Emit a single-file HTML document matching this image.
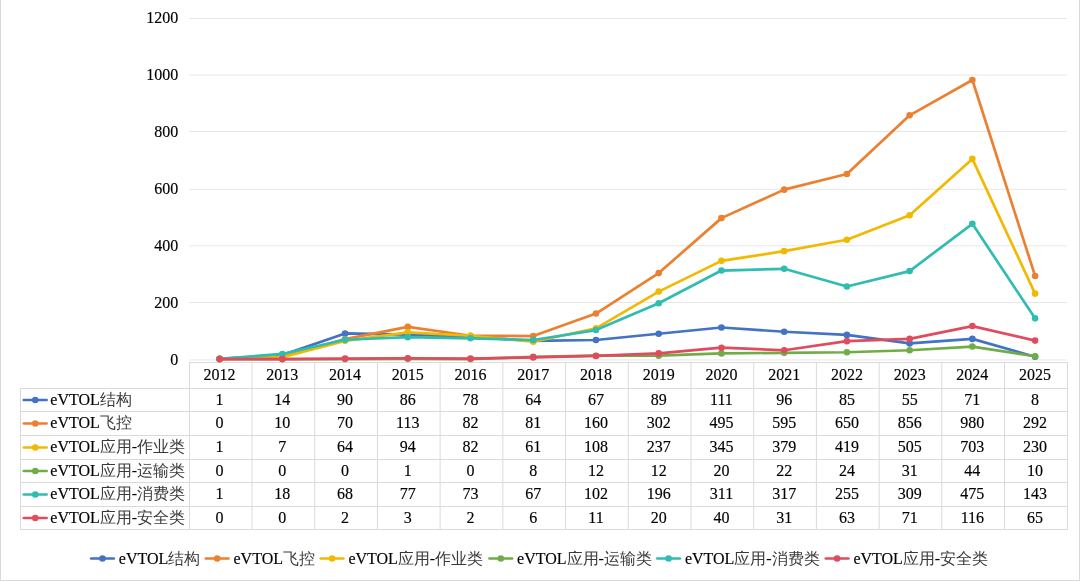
<!DOCTYPE html><html><head><meta charset="utf-8"><style>html,body{margin:0;padding:0;background:#fff;overflow:hidden;}svg{display:block;will-change:transform;}text{font-family:"Liberation Serif",serif;fill:#000;stroke:#000;stroke-width:0.15px;}tspan{stroke:none;}</style></head><body>
<svg width="1080" height="581" viewBox="0 0 1080 581">
<rect x="0" y="0" width="1080" height="581" fill="#fff"/>
<rect x="0" y="0" width="1" height="581" fill="#D9D9D9"/>
<rect x="1079" y="0" width="1" height="581" fill="#D9D9D9"/>
<rect x="0" y="580" width="1080" height="1" fill="#D9D9D9"/>
<line x1="189" y1="359.90" x2="1067" y2="359.90" stroke="#E6E6E6" stroke-width="1"/>
<text x="178.2" y="364.78" font-size="16" text-anchor="end">0</text>
<line x1="189" y1="302.50" x2="1067" y2="302.50" stroke="#E6E6E6" stroke-width="1"/>
<text x="178.2" y="307.85" font-size="16" text-anchor="end">200</text>
<line x1="189" y1="245.80" x2="1067" y2="245.80" stroke="#E6E6E6" stroke-width="1"/>
<text x="178.2" y="250.92" font-size="16" text-anchor="end">400</text>
<line x1="189" y1="189.30" x2="1067" y2="189.30" stroke="#E6E6E6" stroke-width="1"/>
<text x="178.2" y="193.99" font-size="16" text-anchor="end">600</text>
<line x1="189" y1="131.50" x2="1067" y2="131.50" stroke="#E6E6E6" stroke-width="1"/>
<text x="178.2" y="137.06" font-size="16" text-anchor="end">800</text>
<line x1="189" y1="75.00" x2="1067" y2="75.00" stroke="#E6E6E6" stroke-width="1"/>
<text x="178.2" y="80.13" font-size="16" text-anchor="end">1000</text>
<line x1="189" y1="18.50" x2="1067" y2="18.50" stroke="#E6E6E6" stroke-width="1"/>
<text x="178.2" y="23.20" font-size="16" text-anchor="end">1200</text>
<rect x="189" y="362" width="879" height="1" fill="#DADADA"/>
<rect x="20" y="388" width="1048" height="1" fill="#DADADA"/>
<rect x="20" y="411" width="1048" height="1" fill="#DADADA"/>
<rect x="20" y="435" width="1048" height="1" fill="#DADADA"/>
<rect x="20" y="459" width="1048" height="1" fill="#DADADA"/>
<rect x="20" y="482" width="1048" height="1" fill="#DADADA"/>
<rect x="20" y="506" width="1048" height="1" fill="#DADADA"/>
<rect x="20" y="529" width="1048" height="1" fill="#DADADA"/>
<rect x="20" y="388" width="1" height="142" fill="#DADADA"/>
<line x1="189.50" y1="362" x2="189.50" y2="530" stroke="#DADADA" stroke-width="1"/>
<line x1="252.01" y1="362" x2="252.01" y2="530" stroke="#DADADA" stroke-width="1"/>
<line x1="314.72" y1="362" x2="314.72" y2="530" stroke="#DADADA" stroke-width="1"/>
<line x1="377.43" y1="362" x2="377.43" y2="530" stroke="#DADADA" stroke-width="1"/>
<line x1="440.14" y1="362" x2="440.14" y2="530" stroke="#DADADA" stroke-width="1"/>
<line x1="502.85" y1="362" x2="502.85" y2="530" stroke="#DADADA" stroke-width="1"/>
<line x1="565.56" y1="362" x2="565.56" y2="530" stroke="#DADADA" stroke-width="1"/>
<line x1="628.27" y1="362" x2="628.27" y2="530" stroke="#DADADA" stroke-width="1"/>
<line x1="690.98" y1="362" x2="690.98" y2="530" stroke="#DADADA" stroke-width="1"/>
<line x1="753.69" y1="362" x2="753.69" y2="530" stroke="#DADADA" stroke-width="1"/>
<line x1="816.40" y1="362" x2="816.40" y2="530" stroke="#DADADA" stroke-width="1"/>
<line x1="879.11" y1="362" x2="879.11" y2="530" stroke="#DADADA" stroke-width="1"/>
<line x1="941.82" y1="362" x2="941.82" y2="530" stroke="#DADADA" stroke-width="1"/>
<line x1="1004.53" y1="362" x2="1004.53" y2="530" stroke="#DADADA" stroke-width="1"/>
<line x1="1067.50" y1="362" x2="1067.50" y2="530" stroke="#DADADA" stroke-width="1"/>
<text x="219.60" y="379.9" font-size="16" text-anchor="middle">2012</text>
<text x="282.33" y="379.9" font-size="16" text-anchor="middle">2013</text>
<text x="345.06" y="379.9" font-size="16" text-anchor="middle">2014</text>
<text x="407.79" y="379.9" font-size="16" text-anchor="middle">2015</text>
<text x="470.52" y="379.9" font-size="16" text-anchor="middle">2016</text>
<text x="533.25" y="379.9" font-size="16" text-anchor="middle">2017</text>
<text x="595.98" y="379.9" font-size="16" text-anchor="middle">2018</text>
<text x="658.71" y="379.9" font-size="16" text-anchor="middle">2019</text>
<text x="721.44" y="379.9" font-size="16" text-anchor="middle">2020</text>
<text x="784.17" y="379.9" font-size="16" text-anchor="middle">2021</text>
<text x="846.90" y="379.9" font-size="16" text-anchor="middle">2022</text>
<text x="909.63" y="379.9" font-size="16" text-anchor="middle">2023</text>
<text x="972.36" y="379.9" font-size="16" text-anchor="middle">2024</text>
<text x="1035.09" y="379.9" font-size="16" text-anchor="middle">2025</text>
<line x1="23.8" y1="400.00" x2="46.6" y2="400.00" stroke="#4472C4" stroke-width="2.7" stroke-linecap="round"/>
<circle cx="35.3" cy="400.00" r="3.3" fill="#4472C4"/>
<text x="50.3" y="404.60" font-size="16">eVTOL<tspan fill="#3A3A3A">结构</tspan></text>
<text x="219.60" y="404.60" font-size="16" text-anchor="middle">1</text>
<text x="282.33" y="404.60" font-size="16" text-anchor="middle">14</text>
<text x="345.06" y="404.60" font-size="16" text-anchor="middle">90</text>
<text x="407.79" y="404.60" font-size="16" text-anchor="middle">86</text>
<text x="470.52" y="404.60" font-size="16" text-anchor="middle">78</text>
<text x="533.25" y="404.60" font-size="16" text-anchor="middle">64</text>
<text x="595.98" y="404.60" font-size="16" text-anchor="middle">67</text>
<text x="658.71" y="404.60" font-size="16" text-anchor="middle">89</text>
<text x="721.44" y="404.60" font-size="16" text-anchor="middle">111</text>
<text x="784.17" y="404.60" font-size="16" text-anchor="middle">96</text>
<text x="846.90" y="404.60" font-size="16" text-anchor="middle">85</text>
<text x="909.63" y="404.60" font-size="16" text-anchor="middle">55</text>
<text x="972.36" y="404.60" font-size="16" text-anchor="middle">71</text>
<text x="1035.09" y="404.60" font-size="16" text-anchor="middle">8</text>
<line x1="23.8" y1="423.50" x2="46.6" y2="423.50" stroke="#EC8031" stroke-width="2.7" stroke-linecap="round"/>
<circle cx="35.3" cy="423.50" r="3.3" fill="#EC8031"/>
<text x="50.3" y="428.10" font-size="16">eVTOL<tspan fill="#3A3A3A">飞控</tspan></text>
<text x="219.60" y="428.10" font-size="16" text-anchor="middle">0</text>
<text x="282.33" y="428.10" font-size="16" text-anchor="middle">10</text>
<text x="345.06" y="428.10" font-size="16" text-anchor="middle">70</text>
<text x="407.79" y="428.10" font-size="16" text-anchor="middle">113</text>
<text x="470.52" y="428.10" font-size="16" text-anchor="middle">82</text>
<text x="533.25" y="428.10" font-size="16" text-anchor="middle">81</text>
<text x="595.98" y="428.10" font-size="16" text-anchor="middle">160</text>
<text x="658.71" y="428.10" font-size="16" text-anchor="middle">302</text>
<text x="721.44" y="428.10" font-size="16" text-anchor="middle">495</text>
<text x="784.17" y="428.10" font-size="16" text-anchor="middle">595</text>
<text x="846.90" y="428.10" font-size="16" text-anchor="middle">650</text>
<text x="909.63" y="428.10" font-size="16" text-anchor="middle">856</text>
<text x="972.36" y="428.10" font-size="16" text-anchor="middle">980</text>
<text x="1035.09" y="428.10" font-size="16" text-anchor="middle">292</text>
<line x1="23.8" y1="447.50" x2="46.6" y2="447.50" stroke="#F1B902" stroke-width="2.7" stroke-linecap="round"/>
<circle cx="35.3" cy="447.50" r="3.3" fill="#F1B902"/>
<text x="50.3" y="452.10" font-size="16">eVTOL<tspan fill="#3A3A3A">应用</tspan>-<tspan fill="#3A3A3A">作业类</tspan></text>
<text x="219.60" y="452.10" font-size="16" text-anchor="middle">1</text>
<text x="282.33" y="452.10" font-size="16" text-anchor="middle">7</text>
<text x="345.06" y="452.10" font-size="16" text-anchor="middle">64</text>
<text x="407.79" y="452.10" font-size="16" text-anchor="middle">94</text>
<text x="470.52" y="452.10" font-size="16" text-anchor="middle">82</text>
<text x="533.25" y="452.10" font-size="16" text-anchor="middle">61</text>
<text x="595.98" y="452.10" font-size="16" text-anchor="middle">108</text>
<text x="658.71" y="452.10" font-size="16" text-anchor="middle">237</text>
<text x="721.44" y="452.10" font-size="16" text-anchor="middle">345</text>
<text x="784.17" y="452.10" font-size="16" text-anchor="middle">379</text>
<text x="846.90" y="452.10" font-size="16" text-anchor="middle">419</text>
<text x="909.63" y="452.10" font-size="16" text-anchor="middle">505</text>
<text x="972.36" y="452.10" font-size="16" text-anchor="middle">703</text>
<text x="1035.09" y="452.10" font-size="16" text-anchor="middle">230</text>
<line x1="23.8" y1="471.00" x2="46.6" y2="471.00" stroke="#70AD47" stroke-width="2.7" stroke-linecap="round"/>
<circle cx="35.3" cy="471.00" r="3.3" fill="#70AD47"/>
<text x="50.3" y="475.60" font-size="16">eVTOL<tspan fill="#3A3A3A">应用</tspan>-<tspan fill="#3A3A3A">运输类</tspan></text>
<text x="219.60" y="475.60" font-size="16" text-anchor="middle">0</text>
<text x="282.33" y="475.60" font-size="16" text-anchor="middle">0</text>
<text x="345.06" y="475.60" font-size="16" text-anchor="middle">0</text>
<text x="407.79" y="475.60" font-size="16" text-anchor="middle">1</text>
<text x="470.52" y="475.60" font-size="16" text-anchor="middle">0</text>
<text x="533.25" y="475.60" font-size="16" text-anchor="middle">8</text>
<text x="595.98" y="475.60" font-size="16" text-anchor="middle">12</text>
<text x="658.71" y="475.60" font-size="16" text-anchor="middle">12</text>
<text x="721.44" y="475.60" font-size="16" text-anchor="middle">20</text>
<text x="784.17" y="475.60" font-size="16" text-anchor="middle">22</text>
<text x="846.90" y="475.60" font-size="16" text-anchor="middle">24</text>
<text x="909.63" y="475.60" font-size="16" text-anchor="middle">31</text>
<text x="972.36" y="475.60" font-size="16" text-anchor="middle">44</text>
<text x="1035.09" y="475.60" font-size="16" text-anchor="middle">10</text>
<line x1="23.8" y1="494.50" x2="46.6" y2="494.50" stroke="#30BDB1" stroke-width="2.7" stroke-linecap="round"/>
<circle cx="35.3" cy="494.50" r="3.3" fill="#30BDB1"/>
<text x="50.3" y="499.10" font-size="16">eVTOL<tspan fill="#3A3A3A">应用</tspan>-<tspan fill="#3A3A3A">消费类</tspan></text>
<text x="219.60" y="499.10" font-size="16" text-anchor="middle">1</text>
<text x="282.33" y="499.10" font-size="16" text-anchor="middle">18</text>
<text x="345.06" y="499.10" font-size="16" text-anchor="middle">68</text>
<text x="407.79" y="499.10" font-size="16" text-anchor="middle">77</text>
<text x="470.52" y="499.10" font-size="16" text-anchor="middle">73</text>
<text x="533.25" y="499.10" font-size="16" text-anchor="middle">67</text>
<text x="595.98" y="499.10" font-size="16" text-anchor="middle">102</text>
<text x="658.71" y="499.10" font-size="16" text-anchor="middle">196</text>
<text x="721.44" y="499.10" font-size="16" text-anchor="middle">311</text>
<text x="784.17" y="499.10" font-size="16" text-anchor="middle">317</text>
<text x="846.90" y="499.10" font-size="16" text-anchor="middle">255</text>
<text x="909.63" y="499.10" font-size="16" text-anchor="middle">309</text>
<text x="972.36" y="499.10" font-size="16" text-anchor="middle">475</text>
<text x="1035.09" y="499.10" font-size="16" text-anchor="middle">143</text>
<line x1="23.8" y1="518.00" x2="46.6" y2="518.00" stroke="#E04B5E" stroke-width="2.7" stroke-linecap="round"/>
<circle cx="35.3" cy="518.00" r="3.3" fill="#E04B5E"/>
<text x="50.3" y="522.60" font-size="16">eVTOL<tspan fill="#3A3A3A">应用</tspan>-<tspan fill="#3A3A3A">安全类</tspan></text>
<text x="219.60" y="522.60" font-size="16" text-anchor="middle">0</text>
<text x="282.33" y="522.60" font-size="16" text-anchor="middle">0</text>
<text x="345.06" y="522.60" font-size="16" text-anchor="middle">2</text>
<text x="407.79" y="522.60" font-size="16" text-anchor="middle">3</text>
<text x="470.52" y="522.60" font-size="16" text-anchor="middle">2</text>
<text x="533.25" y="522.60" font-size="16" text-anchor="middle">6</text>
<text x="595.98" y="522.60" font-size="16" text-anchor="middle">11</text>
<text x="658.71" y="522.60" font-size="16" text-anchor="middle">20</text>
<text x="721.44" y="522.60" font-size="16" text-anchor="middle">40</text>
<text x="784.17" y="522.60" font-size="16" text-anchor="middle">31</text>
<text x="846.90" y="522.60" font-size="16" text-anchor="middle">63</text>
<text x="909.63" y="522.60" font-size="16" text-anchor="middle">71</text>
<text x="972.36" y="522.60" font-size="16" text-anchor="middle">116</text>
<text x="1035.09" y="522.60" font-size="16" text-anchor="middle">65</text>
<polyline points="219.60,358.82 282.33,355.11 345.06,333.47 407.79,334.61 470.52,336.89 533.25,340.87 595.98,340.02 658.71,333.75 721.44,327.49 784.17,331.76 846.90,334.89 909.63,343.44 972.36,338.88 1035.09,356.82" fill="none" stroke="#4472C4" stroke-width="2.7" stroke-linejoin="round" stroke-linecap="round"/>
<circle cx="219.60" cy="358.82" r="3.3" fill="#4472C4"/>
<circle cx="282.33" cy="355.11" r="3.3" fill="#4472C4"/>
<circle cx="345.06" cy="333.47" r="3.3" fill="#4472C4"/>
<circle cx="407.79" cy="334.61" r="3.3" fill="#4472C4"/>
<circle cx="470.52" cy="336.89" r="3.3" fill="#4472C4"/>
<circle cx="533.25" cy="340.87" r="3.3" fill="#4472C4"/>
<circle cx="595.98" cy="340.02" r="3.3" fill="#4472C4"/>
<circle cx="658.71" cy="333.75" r="3.3" fill="#4472C4"/>
<circle cx="721.44" cy="327.49" r="3.3" fill="#4472C4"/>
<circle cx="784.17" cy="331.76" r="3.3" fill="#4472C4"/>
<circle cx="846.90" cy="334.89" r="3.3" fill="#4472C4"/>
<circle cx="909.63" cy="343.44" r="3.3" fill="#4472C4"/>
<circle cx="972.36" cy="338.88" r="3.3" fill="#4472C4"/>
<circle cx="1035.09" cy="356.82" r="3.3" fill="#4472C4"/>
<polyline points="219.60,359.10 282.33,356.25 345.06,339.16 407.79,326.92 470.52,335.75 533.25,336.03 595.98,313.53 658.71,273.09 721.44,218.12 784.17,189.64 846.90,173.98 909.63,115.31 972.36,80.00 1035.09,275.94" fill="none" stroke="#EC8031" stroke-width="2.7" stroke-linejoin="round" stroke-linecap="round"/>
<circle cx="219.60" cy="359.10" r="3.3" fill="#EC8031"/>
<circle cx="282.33" cy="356.25" r="3.3" fill="#EC8031"/>
<circle cx="345.06" cy="339.16" r="3.3" fill="#EC8031"/>
<circle cx="407.79" cy="326.92" r="3.3" fill="#EC8031"/>
<circle cx="470.52" cy="335.75" r="3.3" fill="#EC8031"/>
<circle cx="533.25" cy="336.03" r="3.3" fill="#EC8031"/>
<circle cx="595.98" cy="313.53" r="3.3" fill="#EC8031"/>
<circle cx="658.71" cy="273.09" r="3.3" fill="#EC8031"/>
<circle cx="721.44" cy="218.12" r="3.3" fill="#EC8031"/>
<circle cx="784.17" cy="189.64" r="3.3" fill="#EC8031"/>
<circle cx="846.90" cy="173.98" r="3.3" fill="#EC8031"/>
<circle cx="909.63" cy="115.31" r="3.3" fill="#EC8031"/>
<circle cx="972.36" cy="80.00" r="3.3" fill="#EC8031"/>
<circle cx="1035.09" cy="275.94" r="3.3" fill="#EC8031"/>
<polyline points="219.60,358.82 282.33,357.11 345.06,340.87 407.79,332.33 470.52,335.75 533.25,341.73 595.98,328.34 658.71,291.60 721.44,260.84 784.17,251.16 846.90,239.77 909.63,215.28 972.36,158.89 1035.09,293.60" fill="none" stroke="#F1B902" stroke-width="2.7" stroke-linejoin="round" stroke-linecap="round"/>
<circle cx="219.60" cy="358.82" r="3.3" fill="#F1B902"/>
<circle cx="282.33" cy="357.11" r="3.3" fill="#F1B902"/>
<circle cx="345.06" cy="340.87" r="3.3" fill="#F1B902"/>
<circle cx="407.79" cy="332.33" r="3.3" fill="#F1B902"/>
<circle cx="470.52" cy="335.75" r="3.3" fill="#F1B902"/>
<circle cx="533.25" cy="341.73" r="3.3" fill="#F1B902"/>
<circle cx="595.98" cy="328.34" r="3.3" fill="#F1B902"/>
<circle cx="658.71" cy="291.60" r="3.3" fill="#F1B902"/>
<circle cx="721.44" cy="260.84" r="3.3" fill="#F1B902"/>
<circle cx="784.17" cy="251.16" r="3.3" fill="#F1B902"/>
<circle cx="846.90" cy="239.77" r="3.3" fill="#F1B902"/>
<circle cx="909.63" cy="215.28" r="3.3" fill="#F1B902"/>
<circle cx="972.36" cy="158.89" r="3.3" fill="#F1B902"/>
<circle cx="1035.09" cy="293.60" r="3.3" fill="#F1B902"/>
<polyline points="219.60,359.10 282.33,359.10 345.06,359.10 407.79,358.82 470.52,359.10 533.25,356.82 595.98,355.68 658.71,355.68 721.44,353.40 784.17,352.83 846.90,352.26 909.63,350.27 972.36,346.57 1035.09,356.25" fill="none" stroke="#70AD47" stroke-width="2.7" stroke-linejoin="round" stroke-linecap="round"/>
<circle cx="219.60" cy="359.10" r="3.3" fill="#70AD47"/>
<circle cx="282.33" cy="359.10" r="3.3" fill="#70AD47"/>
<circle cx="345.06" cy="359.10" r="3.3" fill="#70AD47"/>
<circle cx="407.79" cy="358.82" r="3.3" fill="#70AD47"/>
<circle cx="470.52" cy="359.10" r="3.3" fill="#70AD47"/>
<circle cx="533.25" cy="356.82" r="3.3" fill="#70AD47"/>
<circle cx="595.98" cy="355.68" r="3.3" fill="#70AD47"/>
<circle cx="658.71" cy="355.68" r="3.3" fill="#70AD47"/>
<circle cx="721.44" cy="353.40" r="3.3" fill="#70AD47"/>
<circle cx="784.17" cy="352.83" r="3.3" fill="#70AD47"/>
<circle cx="846.90" cy="352.26" r="3.3" fill="#70AD47"/>
<circle cx="909.63" cy="350.27" r="3.3" fill="#70AD47"/>
<circle cx="972.36" cy="346.57" r="3.3" fill="#70AD47"/>
<circle cx="1035.09" cy="356.25" r="3.3" fill="#70AD47"/>
<polyline points="219.60,358.82 282.33,353.97 345.06,339.73 407.79,337.17 470.52,338.31 533.25,340.02 595.98,330.05 658.71,303.28 721.44,270.53 784.17,268.82 846.90,286.48 909.63,271.10 972.36,223.82 1035.09,318.37" fill="none" stroke="#30BDB1" stroke-width="2.7" stroke-linejoin="round" stroke-linecap="round"/>
<circle cx="219.60" cy="358.82" r="3.3" fill="#30BDB1"/>
<circle cx="282.33" cy="353.97" r="3.3" fill="#30BDB1"/>
<circle cx="345.06" cy="339.73" r="3.3" fill="#30BDB1"/>
<circle cx="407.79" cy="337.17" r="3.3" fill="#30BDB1"/>
<circle cx="470.52" cy="338.31" r="3.3" fill="#30BDB1"/>
<circle cx="533.25" cy="340.02" r="3.3" fill="#30BDB1"/>
<circle cx="595.98" cy="330.05" r="3.3" fill="#30BDB1"/>
<circle cx="658.71" cy="303.28" r="3.3" fill="#30BDB1"/>
<circle cx="721.44" cy="270.53" r="3.3" fill="#30BDB1"/>
<circle cx="784.17" cy="268.82" r="3.3" fill="#30BDB1"/>
<circle cx="846.90" cy="286.48" r="3.3" fill="#30BDB1"/>
<circle cx="909.63" cy="271.10" r="3.3" fill="#30BDB1"/>
<circle cx="972.36" cy="223.82" r="3.3" fill="#30BDB1"/>
<circle cx="1035.09" cy="318.37" r="3.3" fill="#30BDB1"/>
<polyline points="219.60,359.10 282.33,359.10 345.06,358.53 407.79,358.25 470.52,358.53 533.25,357.39 595.98,355.97 658.71,353.40 721.44,347.71 784.17,350.27 846.90,341.16 909.63,338.88 972.36,326.06 1035.09,340.59" fill="none" stroke="#E04B5E" stroke-width="2.7" stroke-linejoin="round" stroke-linecap="round"/>
<circle cx="219.60" cy="359.10" r="3.3" fill="#E04B5E"/>
<circle cx="282.33" cy="359.10" r="3.3" fill="#E04B5E"/>
<circle cx="345.06" cy="358.53" r="3.3" fill="#E04B5E"/>
<circle cx="407.79" cy="358.25" r="3.3" fill="#E04B5E"/>
<circle cx="470.52" cy="358.53" r="3.3" fill="#E04B5E"/>
<circle cx="533.25" cy="357.39" r="3.3" fill="#E04B5E"/>
<circle cx="595.98" cy="355.97" r="3.3" fill="#E04B5E"/>
<circle cx="658.71" cy="353.40" r="3.3" fill="#E04B5E"/>
<circle cx="721.44" cy="347.71" r="3.3" fill="#E04B5E"/>
<circle cx="784.17" cy="350.27" r="3.3" fill="#E04B5E"/>
<circle cx="846.90" cy="341.16" r="3.3" fill="#E04B5E"/>
<circle cx="909.63" cy="338.88" r="3.3" fill="#E04B5E"/>
<circle cx="972.36" cy="326.06" r="3.3" fill="#E04B5E"/>
<circle cx="1035.09" cy="340.59" r="3.3" fill="#E04B5E"/>
<line x1="91.2" y1="558.5" x2="113.8" y2="558.5" stroke="#4472C4" stroke-width="2.7" stroke-linecap="round"/>
<circle cx="102.5" cy="558.5" r="3.3" fill="#4472C4"/>
<text x="118.8" y="563.7" font-size="16">eVTOL<tspan fill="#3A3A3A">结构</tspan></text>
<line x1="205.89999999999998" y1="558.5" x2="228.5" y2="558.5" stroke="#EC8031" stroke-width="2.7" stroke-linecap="round"/>
<circle cx="217.2" cy="558.5" r="3.3" fill="#EC8031"/>
<text x="233.5" y="563.7" font-size="16">eVTOL<tspan fill="#3A3A3A">飞控</tspan></text>
<line x1="320.8" y1="558.5" x2="343.40000000000003" y2="558.5" stroke="#F1B902" stroke-width="2.7" stroke-linecap="round"/>
<circle cx="332.1" cy="558.5" r="3.3" fill="#F1B902"/>
<text x="348.40000000000003" y="563.7" font-size="16">eVTOL<tspan fill="#3A3A3A">应用</tspan>-<tspan fill="#3A3A3A">作业类</tspan></text>
<line x1="489.5" y1="558.5" x2="512.1" y2="558.5" stroke="#70AD47" stroke-width="2.7" stroke-linecap="round"/>
<circle cx="500.8" cy="558.5" r="3.3" fill="#70AD47"/>
<text x="517.1" y="563.7" font-size="16">eVTOL<tspan fill="#3A3A3A">应用</tspan>-<tspan fill="#3A3A3A">运输类</tspan></text>
<line x1="657.3000000000001" y1="558.5" x2="679.9" y2="558.5" stroke="#30BDB1" stroke-width="2.7" stroke-linecap="round"/>
<circle cx="668.6" cy="558.5" r="3.3" fill="#30BDB1"/>
<text x="684.9" y="563.7" font-size="16">eVTOL<tspan fill="#3A3A3A">应用</tspan>-<tspan fill="#3A3A3A">消费类</tspan></text>
<line x1="825.8000000000001" y1="558.5" x2="848.4" y2="558.5" stroke="#E04B5E" stroke-width="2.7" stroke-linecap="round"/>
<circle cx="837.1" cy="558.5" r="3.3" fill="#E04B5E"/>
<text x="853.4" y="563.7" font-size="16">eVTOL<tspan fill="#3A3A3A">应用</tspan>-<tspan fill="#3A3A3A">安全类</tspan></text>
</svg></body></html>
